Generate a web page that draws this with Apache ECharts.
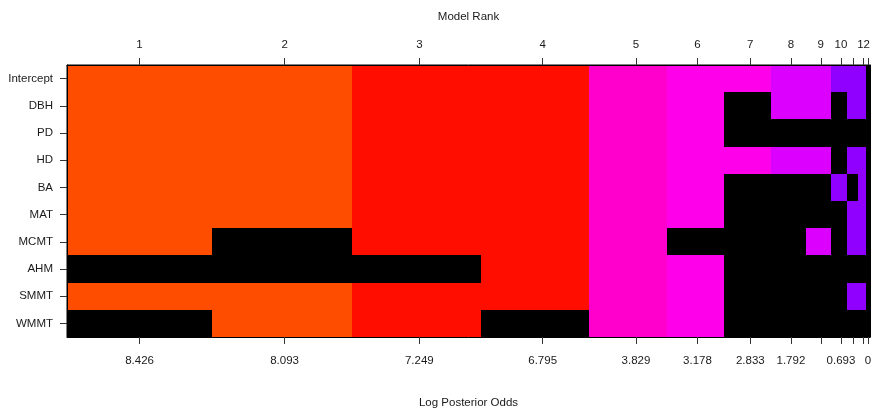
<!DOCTYPE html>
<html>
<head>
<meta charset="utf-8">
<script src="https://cdn.jsdelivr.net/npm/echarts@6/dist/echarts.min.js"></script>
<style>
  html, body { margin: 0; padding: 0; background: #fff; }
  #chart { width: 873px; height: 412px; }
</style>
</head>
<body>
<div id="chart"></div>
<script>
// Predictors, listed top row first
const variables = ['Intercept', 'DBH', 'PD', 'HD', 'BA', 'MAT', 'MCMT', 'AHM', 'SMMT', 'WMMT'];

// Model ranks (best model first)
const modelRanks = ['1', '2', '3', '4', '5', '6', '7', '8', '9', '10', '11', '12', '13'];

// Log posterior odds of each model against the weakest one
const logPostOdds = [8.426, 8.093, 7.249, 6.795, 3.829, 3.178, 2.833, 1.792, 1.609, 0.693, 0.693, 0.49, 0];

// Inclusion of each predictor in each model (1 = in the model)
const inclIntercept = [1, 1, 1, 1, 1, 1, 1, 1, 1, 1, 1, 1, 1];
const inclDBH       = [1, 1, 1, 1, 1, 1, 0, 1, 1, 0, 1, 1, 0];
const inclPD        = [1, 1, 1, 1, 1, 1, 0, 0, 0, 0, 0, 0, 0];
const inclHD        = [1, 1, 1, 1, 1, 1, 1, 1, 1, 0, 1, 1, 0];
const inclBA        = [1, 1, 1, 1, 1, 1, 0, 0, 0, 1, 0, 1, 0];
const inclMAT       = [1, 1, 1, 1, 1, 1, 0, 0, 0, 0, 1, 1, 0];
const inclMCMT      = [1, 0, 1, 1, 1, 0, 0, 0, 1, 0, 1, 1, 0];
const inclAHM       = [0, 0, 0, 1, 1, 1, 0, 0, 0, 0, 0, 0, 0];
const inclSMMT      = [1, 1, 1, 1, 1, 1, 0, 0, 0, 0, 1, 1, 0];
const inclWMMT      = [0, 1, 1, 0, 1, 1, 0, 0, 0, 0, 0, 0, 0];

const inclusion = [inclIntercept, inclDBH, inclPD, inclHD, inclBA, inclMAT,
                   inclMCMT, inclAHM, inclSMMT, inclWMMT];

// Fill colour of each model's column (rainbow by log odds, zero odds drawn black)
const modelColors = ['#ff4d00', '#ff4d00', '#ff0e00', '#ff0e00', '#ff00cc', '#ff00ea',
                     '#ff00ea', '#dc00ff', '#dc00ff', '#8f00ff', '#8f00ff', '#8f00ff', '#000000'];

const FONT = '"Liberation Sans", Arial, sans-serif';
const FONT_SIZE = 11.5;
const TEXT = '#1a1a1a';

// Column centres: each model's width is its log posterior odds
const centers = [];
let run = 0;
logPostOdds.forEach(v => { centers.push(run + v / 2); run += v; });
const n = centers.length;
// Cell edges halfway between neighbouring centres
const edges = [1.5 * centers[0] - 0.5 * centers[1]];
for (let i = 1; i < n; i++) edges.push((centers[i - 1] + centers[i]) / 2);
edges.push(1.5 * centers[n - 1] - 0.5 * centers[n - 2]);
const xMin = edges[0], xMax = edges[n];

const cells = [];
inclusion.forEach((row, j) => {
  row.forEach((inc, i) => {
    if (inc) cells.push([edges[i], edges[i + 1], j, i]);
  });
});

const indexOf = v => centers.findIndex(c => Math.abs(c - v) < 1e-9);
const oddsText = v => String(v);

const chart = echarts.init(document.getElementById('chart'), null, { renderer: 'canvas' });

function baseOption(topLabels, bottomLabels) {
  const common = {
    type: 'value', min: xMin, max: xMax, z: 5,
    splitLine: { show: false },
    axisLine: { show: true, onZero: false, lineStyle: { color: '#000', width: 1 } },
    axisTick: { show: true, length: 7, customValues: centers, lineStyle: { color: '#333', width: 1 } },
    nameLocation: 'middle',
    nameTextStyle: { fontFamily: FONT, fontSize: FONT_SIZE, color: TEXT }
  };
  return {
    animation: false,
    backgroundColor: '#fff',
    grid: { left: 67, right: 3, top: 65, bottom: 75, show: true, containLabel: false,
            outerBoundsMode: 'none',
            backgroundColor: '#000', borderColor: '#000', borderWidth: 1 },
    xAxis: [
      Object.assign({}, common, {
        position: 'bottom', name: 'Log Posterior Odds', nameGap: 60,
        axisLabel: { show: true, customValues: bottomLabels, margin: 18,
                     fontFamily: FONT, fontSize: FONT_SIZE, color: TEXT,
                     formatter: v => oddsText(logPostOdds[indexOf(v)]) }
      }),
      Object.assign({}, common, {
        position: 'top', name: 'Model Rank', nameGap: 42,
        axisLabel: { show: true, customValues: topLabels, margin: 14,
                     fontFamily: FONT, fontSize: FONT_SIZE, color: TEXT,
                     formatter: v => modelRanks[indexOf(v)] }
      })
    ],
    yAxis: [
      {
        type: 'category', data: variables, inverse: true, z: 5,
        axisLine: { show: true, onZero: false, lineStyle: { color: '#000', width: 1 } },
        axisTick: { show: true, alignWithLabel: true, length: 7, lineStyle: { color: '#333' } },
        axisLabel: { margin: 14, fontFamily: FONT, fontSize: FONT_SIZE, color: TEXT },
        splitLine: { show: false }
      },
      {
        type: 'category', data: variables, inverse: true, position: 'right', z: 5,
        axisLine: { show: true, onZero: false, lineStyle: { color: '#000', width: 1 } },
        axisTick: { show: false }, axisLabel: { show: false }, splitLine: { show: false }
      }
    ],
    series: [{
      type: 'custom',
      xAxisIndex: 0, yAxisIndex: 0,
      data: cells,
      encode: { x: [0, 1], y: 2 },
      renderItem: (params, api) => {
        const j = api.value(2);
        const a = api.coord([api.value(0), j]);
        const b = api.coord([api.value(1), j]);
        const h = api.size([0, 1])[1];
        const x0 = Math.round(a[0]), x1 = Math.round(b[0]);
        const y0 = Math.round(a[1] - h / 2), y1 = Math.round(a[1] + h / 2);
        return {
          type: 'rect',
          shape: { x: x0, y: y0, width: x1 - x0, height: y1 - y0 },
          style: { fill: modelColors[api.value(3)] }
        };
      }
    }]
  };
}

chart.setOption(baseOption(centers, centers));

// Drop tick labels that would crowd the previous one (gap of half an "m")
const ctx = document.createElement('canvas').getContext('2d');
ctx.font = FONT_SIZE + 'px ' + FONT;
const gap = 0.5 * ctx.measureText('m').width;
function keepLabels(texts) {
  const kept = [];
  let lastRight = -Infinity;
  centers.forEach((c, i) => {
    const px = chart.convertToPixel({ xAxisIndex: 0 }, c);
    const w = ctx.measureText(texts[i]).width;
    if (kept.length === 0 || px - w / 2 >= lastRight + gap) {
      kept.push(c);
      lastRight = px + w / 2;
    }
  });
  return kept;
}
const topKept = keepLabels(modelRanks);
const bottomKept = keepLabels(logPostOdds.map(oddsText));
chart.setOption(baseOption(topKept, bottomKept), true);
</script>
</body>
</html>
